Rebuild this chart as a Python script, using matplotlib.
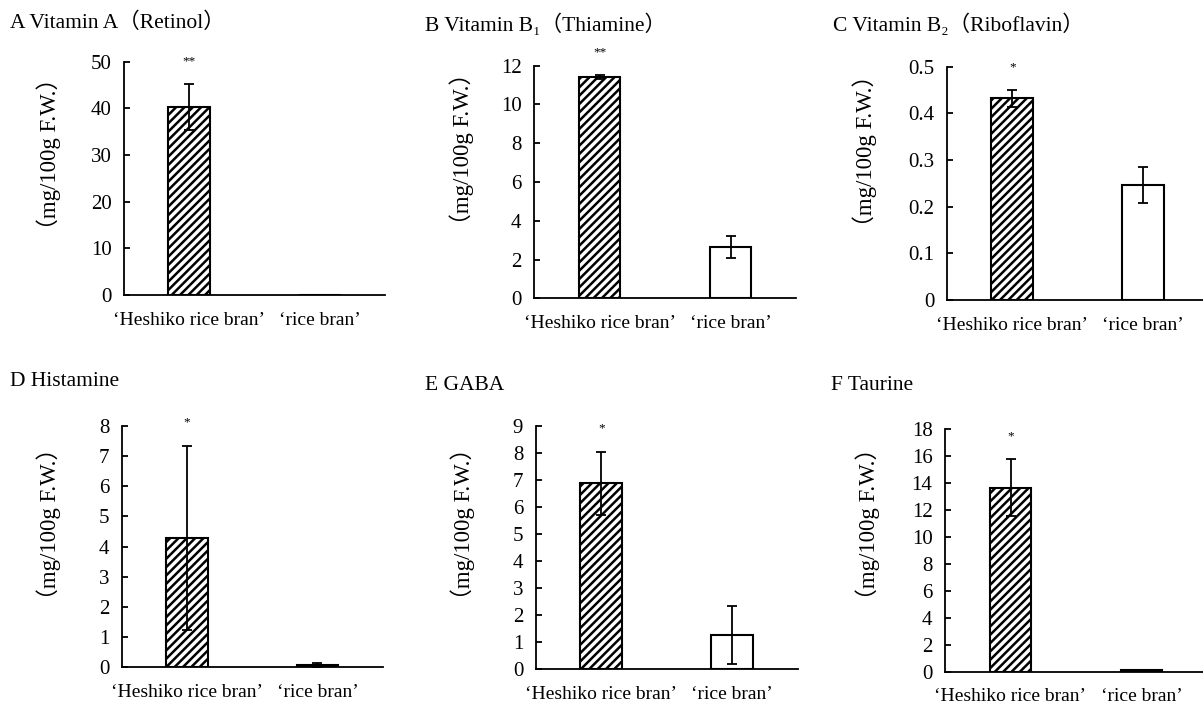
import matplotlib
matplotlib.use("Agg")
import matplotlib.pyplot as plt
from matplotlib.ticker import FuncFormatter

plt.rcParams["font.family"] = ["Liberation Serif", "DejaVu Serif", "Noto Sans CJK JP"]
plt.rcParams["hatch.linewidth"] = 1.8

# data
categories = ["‘Heshiko rice bran’", "‘rice bran’"]
titles = ["A Vitamin A（Retinol）", "B Vitamin B₁（Thiamine）", "C Vitamin B₂（Riboflavin）",
          "D Histamine", "E GABA", "F Taurine"]
heshiko_mean = [40.3, 11.43, 0.432, 4.30, 6.88, 13.65]
heshiko_err = [5.0, 0.10, 0.018, 3.05, 1.17, 2.12]
rice_mean = [0.0, 2.65, 0.246, 0.07, 1.26, 0.12]
rice_err = [0.0, 0.56, 0.039, 0.08, 1.07, 0.0]
y_max = [50, 12, 0.5, 8, 9, 18]
y_step = [10, 2, 0.1, 1, 1, 2]
marks = ["**", "**", "*", "*", "*", "*"]
ylabel = "（mg/100g F.W.）"

# layout (pixels in a 1203x704 canvas)
W, H = 1203, 704
axes_px = [(124, 295, 261, 233.3), (534, 298.3, 262, 232.6), (946.7, 300, 262, 233.3),
           (121.7, 667.3, 261, 241.3), (535.7, 669, 262, 243), (945, 671.7, 262, 242.3)]
title_px = [(10, 23), (425, 25), (833, 25), (10, 382), (425, 385), (831, 385)]
label_pos = [(-0.24, 0.607), (-0.229, 0.642), (-0.266, 0.639),
             (-0.233, 0.594), (-0.231, 0.599), (-0.248, 0.61)]

fig = plt.figure(figsize=(W / 100, H / 100), dpi=100)

for i in range(6):
    l, b, w, h = axes_px[i]
    ax = fig.add_axes([l / W, (H - b) / H, w / W, h / H])

    ax.bar(0, heshiko_mean[i], width=0.32, color="white", edgecolor="black",
           linewidth=1.5, hatch="////", zorder=2)
    ax.bar(1, rice_mean[i], width=0.32, color="white", edgecolor="black",
           linewidth=1.5, zorder=2)
    ax.errorbar([0], [heshiko_mean[i]], yerr=[heshiko_err[i]], fmt="none", ecolor="black",
                elinewidth=1.3, capsize=3.5, capthick=1.3, zorder=3)
    if rice_err[i] > 0:
        ax.errorbar([1], [rice_mean[i]], yerr=[rice_err[i]], fmt="none", ecolor="black",
                    elinewidth=1.3, capsize=3.5, capthick=1.3, zorder=3)

    # significance marks above the first bar
    ax.text(0, heshiko_mean[i] + heshiko_err[i] + 0.07 * y_max[i], marks[i],
            ha="center", va="bottom", fontsize=9.5, clip_on=False)

    ax.set_xlim(-0.5, 1.5)
    ax.set_ylim(0, y_max[i])
    ticks = [k * y_step[i] for k in range(round(y_max[i] / y_step[i]) + 1)]
    ax.set_yticks(ticks)
    ax.yaxis.set_major_formatter(FuncFormatter(lambda v, p: f"{round(v, 3):g}"))
    ax.set_xticks([0, 1])
    ax.set_xticklabels(categories)

    for s in ["top", "right"]:
        ax.spines[s].set_visible(False)
    for s in ["left", "bottom"]:
        ax.spines[s].set_linewidth(1.3)
    ax.tick_params(axis="y", direction="in", length=4, width=1.3, labelsize=15, pad=9)
    ax.tick_params(axis="x", length=0, labelsize=14, pad=12)

    ax.set_ylabel(ylabel, fontsize=16.5)
    ax.yaxis.set_label_coords(*label_pos[i])

    tx, ty = title_px[i]
    fig.text(tx / W, 1 - ty / H, titles[i], ha="left", va="center", fontsize=15.5)

fig.savefig("out.png", dpi=100)
